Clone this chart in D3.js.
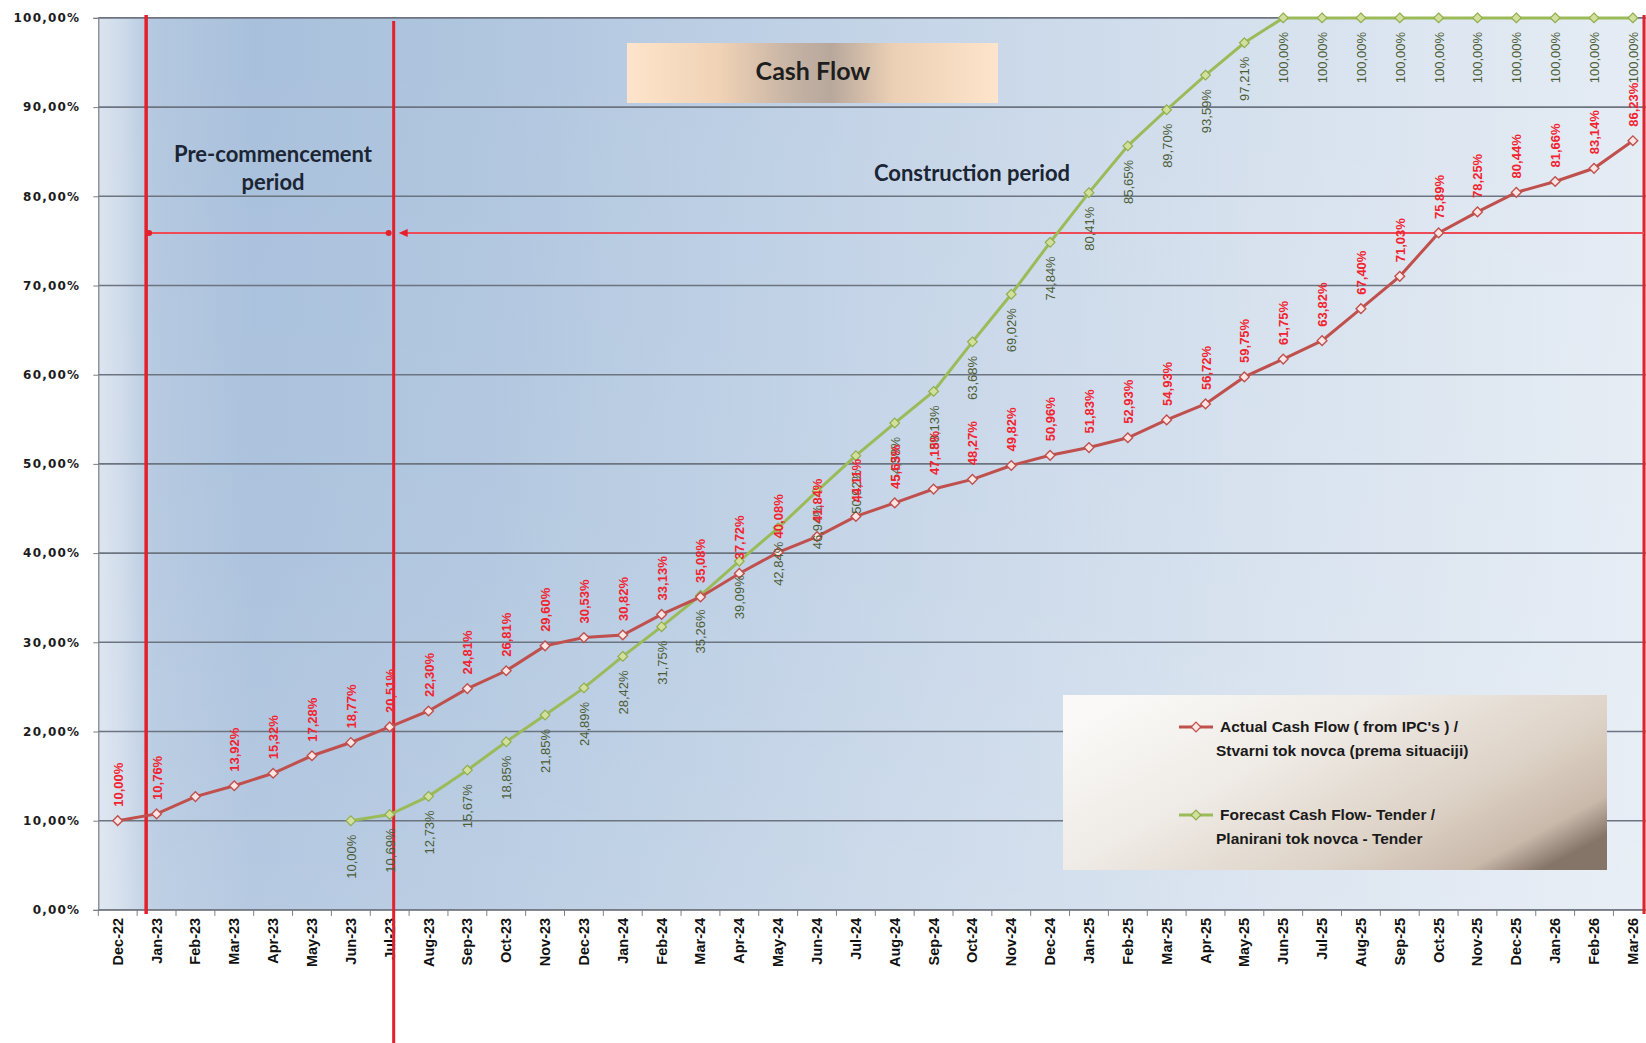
<!DOCTYPE html>
<html>
<head>
<meta charset="utf-8">
<script src="https://cdn.jsdelivr.net/npm/d3@7"></script>
<style>
  html, body { margin: 0; padding: 0; background: #ffffff; }
  svg { display: block; }
</style>
</head>
<body>
<svg id="chart" width="1646" height="1043"></svg>
<script>
// ---------------- DATA ----------------
const months = ["Dec-22","Jan-23","Feb-23","Mar-23","Apr-23","May-23","Jun-23","Jul-23","Aug-23","Sep-23","Oct-23","Nov-23",
  "Dec-23","Jan-24","Feb-24","Mar-24","Apr-24","May-24","Jun-24","Jul-24","Aug-24","Sep-24","Oct-24","Nov-24",
  "Dec-24","Jan-25","Feb-25","Mar-25","Apr-25","May-25","Jun-25","Jul-25","Aug-25","Sep-25","Oct-25","Nov-25",
  "Dec-25","Jan-26","Feb-26","Mar-26"];

const actualCashFlow = [10.00,10.76,12.70,13.92,15.32,17.28,18.77,20.51,22.30,24.81,26.81,29.60,
  30.53,30.82,33.13,35.08,37.72,40.08,41.84,44.11,45.63,47.18,48.27,49.82,
  50.96,51.83,52.93,54.93,56.72,59.75,61.75,63.82,67.40,71.03,75.89,78.25,
  80.44,81.66,83.14,86.23];

const forecastCashFlow = [null,null,null,null,null,null,10.00,10.69,12.73,15.67,18.85,21.85,
  24.89,28.42,31.75,35.26,39.09,42.84,46.94,50.92,54.58,58.13,63.68,69.02,
  74.84,80.41,85.65,89.70,93.59,97.21,100.00,100.00,100.00,100.00,100.00,100.00,
  100.00,100.00,100.00,100.00];

const actualUnlabeled = ["Feb-23"];
const yTicks = [0,10,20,30,40,50,60,70,80,90,100];

const chartTitle = "Cash Flow";
const preLabel = ["Pre-commencement", "period"];
const constructionLabel = "Construction period";
const legendActual = ["Actual Cash Flow ( from IPC's ) /", "Stvarni tok novca (prema situaciji)"];
const legendForecast = ["Forecast  Cash Flow- Tender /", "Planirani tok novca - Tender"];
const periodStart = "Jan-23";
const constructionStart = "Jul-23";

// ---------------- LAYOUT ----------------
const W = 1646, H = 1043;
const plotL = 98.3, plotR = 1652.3, plotT = 17.9, plotB = 909.9;
const visR = 1646;

const svg = d3.select("#chart");
const defs = svg.append("defs");

const x = d3.scaleBand().domain(months).range([plotL, plotR]).paddingInner(0).paddingOuter(0);
const cx = m => x(m) + x.bandwidth() / 2;
const y = d3.scaleLinear().domain([0, 100]).range([plotB, plotT]);
const fmt = v => d3.format(".2f")(v).replace(".", ",") + "%";

// gradients
const bg = defs.append("linearGradient").attr("id", "bgGrad")
  .attr("x1", "0").attr("y1", "0").attr("x2", "1").attr("y2", "0");
[[0, "#dbe4ef"], [0.015, "#cfdbea"], [0.035, "#b4c8e0"], [0.1, "#a9c0dc"], [0.25, "#b0c6df"], [0.5, "#c4d4e7"], [0.75, "#d6e1ee"], [1, "#e5ecf4"]]
  .forEach(([o, c]) => bg.append("stop").attr("offset", o).attr("stop-color", c));
const bgV = defs.append("linearGradient").attr("id", "bgGradV")
  .attr("x1", "0").attr("y1", "0").attr("x2", "0").attr("y2", "1");
[[0, "#ffffff", 0.0], [0.6, "#ffffff", 0.05], [1, "#ffffff", 0.15]]
  .forEach(([o, c, a]) => bgV.append("stop").attr("offset", o).attr("stop-color", c).attr("stop-opacity", a));

const tg = defs.append("linearGradient").attr("id", "titleGrad").attr("x1", "0").attr("x2", "1").attr("y1", "0").attr("y2", "0");
[[0, "#fde4ca"], [0.25, "#f0d2b6"], [0.45, "#c4b2a3"], [0.55, "#b8a89c"], [0.72, "#ecd0b5"], [1, "#fde4ca"]]
  .forEach(([o, c]) => tg.append("stop").attr("offset", o).attr("stop-color", c));

const lg = defs.append("linearGradient").attr("id", "legGrad").attr("x1", "0").attr("y1", "0.2").attr("x2", "1").attr("y2", "0.8");
[[0, "#faf9f7"], [0.35, "#efebe6"], [0.7, "#ddd2c6"], [0.9, "#c9b9ab"], [1, "#857468"]]
  .forEach(([o, c]) => lg.append("stop").attr("offset", o).attr("stop-color", c));

// background
svg.append("rect").attr("width", W).attr("height", H).attr("fill", "#ffffff");
svg.append("rect").attr("x", plotL).attr("y", plotT).attr("width", visR - plotL).attr("height", plotB - plotT)
  .attr("fill", "url(#bgGrad)");
svg.append("rect").attr("x", plotL).attr("y", plotT).attr("width", visR - plotL).attr("height", plotB - plotT)
  .attr("fill", "url(#bgGradV)");

// grid lines
svg.append("g").selectAll("line").data(yTicks).join("line")
  .attr("x1", plotL).attr("x2", visR).attr("y1", d => y(d)).attr("y2", d => y(d))
  .attr("stroke", "#6c7480").attr("stroke-width", 1.6);

// y axis
const yAxis = d3.axisLeft(y).tickValues(yTicks).tickSize(5).tickFormat(d => d3.format(".2f")(d).replace(".", ",") + "%");
const gy = svg.append("g").attr("transform", `translate(${plotL},0)`).call(yAxis);
gy.select(".domain").attr("stroke", "#7a7f88").attr("stroke-width", 1.2);
gy.selectAll(".tick line").attr("stroke", "#7a7f88");
gy.selectAll(".tick text").attr("x", -18).attr("fill", "#1c1c1c")
  .style("font-family", "'DejaVu Sans', sans-serif").style("font-weight", "bold").style("font-size", "12px")
  .style("letter-spacing", "1.2px");

// x axis
const gx = svg.append("g").attr("transform", `translate(0,${plotB})`);
gx.append("line").attr("x1", plotL).attr("x2", visR).attr("stroke", "#7a7f88").attr("stroke-width", 1.2);
gx.selectAll("line.tk").data(months.concat(["__end"])).join("line").attr("class", "tk")
  .attr("x1", (d, i) => plotL + i * x.bandwidth()).attr("x2", (d, i) => plotL + i * x.bandwidth())
  .attr("y1", 0).attr("y2", 6).attr("stroke", "#7a7f88");
gx.selectAll("text").data(months).join("text")
  .attr("transform", d => `translate(${cx(d) + 5},8) rotate(-90)`)
  .attr("text-anchor", "end")
  .attr("fill", "#111")
  .style("font-family", "'Liberation Sans', Arial, sans-serif").style("font-weight", "bold").style("font-size", "14.5px")
  .text(d => d);

// title box
svg.append("rect").attr("x", 627).attr("y", 43).attr("width", 371).attr("height", 60).attr("fill", "url(#titleGrad)");
svg.append("text").attr("x", 813).attr("y", 80).attr("text-anchor", "middle").attr("fill", "#1e1e1e")
  .style("font-family", "Lato, sans-serif").style("font-weight", "bold").style("font-size", "25px").text(chartTitle);

// period annotations
const annFont = "22px";
svg.append("text").attr("x", 273).attr("y", 162).attr("text-anchor", "middle").attr("fill", "#1b2533")
  .style("font-family", "Lato, sans-serif").style("font-weight", "bold").style("font-size", annFont).text(preLabel[0]);
svg.append("text").attr("x", 273).attr("y", 190).attr("text-anchor", "middle").attr("fill", "#1b2533")
  .style("font-family", "Lato, sans-serif").style("font-weight", "bold").style("font-size", annFont).text(preLabel[1]);
svg.append("text").attr("x", 972).attr("y", 181).attr("text-anchor", "middle").attr("fill", "#1b2533")
  .style("font-family", "Lato, sans-serif").style("font-weight", "bold").style("font-size", annFont).text(constructionLabel);

// period markers (red lines)
const xPre = x(periodStart) + 9;
const xCon = cx(constructionStart) + 4;
const xEnd = 1644;
const yArrow = 233;
svg.append("line").attr("x1", xPre).attr("x2", xPre).attr("y1", 15).attr("y2", 914).attr("stroke", "#e3202b").attr("stroke-width", 3.5);
svg.append("line").attr("x1", xCon).attr("x2", xCon).attr("y1", 21).attr("y2", H).attr("stroke", "#e3202b").attr("stroke-width", 3);
svg.append("line").attr("x1", xEnd).attr("x2", xEnd).attr("y1", 15).attr("y2", 914).attr("stroke", "#e3202b").attr("stroke-width", 3);

svg.append("line").attr("x1", xPre).attr("x2", xCon - 3).attr("y1", yArrow).attr("y2", yArrow).attr("stroke", "#ee4a58").attr("stroke-width", 2);
svg.append("circle").attr("cx", xPre + 3).attr("cy", yArrow).attr("r", 3).attr("fill", "#e3202b");
svg.append("circle").attr("cx", xCon - 5).attr("cy", yArrow).attr("r", 3).attr("fill", "#e3202b");
svg.append("line").attr("x1", xCon + 8).attr("x2", xEnd).attr("y1", yArrow).attr("y2", yArrow).attr("stroke", "#ee4a58").attr("stroke-width", 2);
svg.append("path").attr("d", `M${xCon + 5},${yArrow} l9,-4 l0,8 z`).attr("fill", "#e3202b");

// series
const redLine = "#c0504d", greenLine = "#9bbb59";
const lineGen = d3.line().defined(d => d.v != null).x(d => cx(d.m)).y(d => y(d.v));
const actualData = months.map((m, i) => ({ m, v: actualCashFlow[i] }));
const forecastData = months.map((m, i) => ({ m, v: forecastCashFlow[i] })).filter(d => d.v != null);

const diamond = d3.symbol().type(d3.symbolDiamond2 || d3.symbolDiamond).size(60);

svg.append("path").datum(forecastData).attr("d", lineGen).attr("fill", "none").attr("stroke", greenLine).attr("stroke-width", 3);
svg.append("g").selectAll("path").data(forecastData).join("path")
  .attr("transform", d => `translate(${cx(d.m)},${y(d.v)})`).attr("d", diamond)
  .attr("fill", "#d3df9c").attr("stroke", "#8fae4e").attr("stroke-width", 1.2);

svg.append("path").datum(actualData).attr("d", lineGen).attr("fill", "none").attr("stroke", redLine).attr("stroke-width", 3);
svg.append("g").selectAll("path").data(actualData).join("path")
  .attr("transform", d => `translate(${cx(d.m)},${y(d.v)})`).attr("d", diamond)
  .attr("fill", "#fbe6e4").attr("stroke", "#c0504d").attr("stroke-width", 1.4);

// data labels
svg.append("g").selectAll("text").data(forecastData).join("text")
  .attr("transform", d => `translate(${cx(d.m) + 5},${y(d.v) + 14}) rotate(-90)`)
  .attr("text-anchor", "end").attr("fill", "#4d5d37")
  .style("font-family", "'Liberation Sans', Arial, sans-serif").style("font-size", "13px")
  .text(d => fmt(d.v));

svg.append("g").selectAll("text").data(actualData.filter(d => !actualUnlabeled.includes(d.m))).join("text")
  .attr("transform", d => `translate(${cx(d.m) + 5},${y(d.v) - 14}) rotate(-90)`)
  .attr("text-anchor", "start").attr("fill", "#f2222e")
  .style("font-family", "'Liberation Sans', Arial, sans-serif").style("font-weight", "bold").style("font-size", "13px")
  .text(d => fmt(d.v));

// legend
const lgX = 1063, lgY = 695;
svg.append("rect").attr("x", lgX).attr("y", lgY).attr("width", 544).attr("height", 175).attr("fill", "url(#legGrad)");
const legendItems = [
  { lines: legendActual, color: redLine, fill: "#fbe6e4", stroke: "#c0504d", yy: 727 },
  { lines: legendForecast, color: greenLine, fill: "#d3df9c", stroke: "#8fae4e", yy: 815 }
];
const lgi = svg.append("g").selectAll("g").data(legendItems).join("g");
lgi.append("line").attr("x1", 1179).attr("x2", 1213).attr("y1", d => d.yy).attr("y2", d => d.yy)
  .attr("stroke", d => d.color).attr("stroke-width", 3);
lgi.append("path").attr("transform", d => `translate(1196,${d.yy})`).attr("d", diamond)
  .attr("fill", d => d.fill).attr("stroke", d => d.stroke).attr("stroke-width", 1.3);
lgi.append("text").attr("x", 1220).attr("y", d => d.yy + 5).attr("fill", "#1a1a1a")
  .style("font-family", "'Liberation Sans', Arial, sans-serif").style("font-weight", "bold").style("font-size", "15.5px")
  .text(d => d.lines[0]);
lgi.append("text").attr("x", 1216).attr("y", d => d.yy + 29).attr("fill", "#1a1a1a")
  .style("font-family", "'Liberation Sans', Arial, sans-serif").style("font-weight", "bold").style("font-size", "15.5px")
  .text(d => d.lines[1]);
</script>
</body>
</html>
